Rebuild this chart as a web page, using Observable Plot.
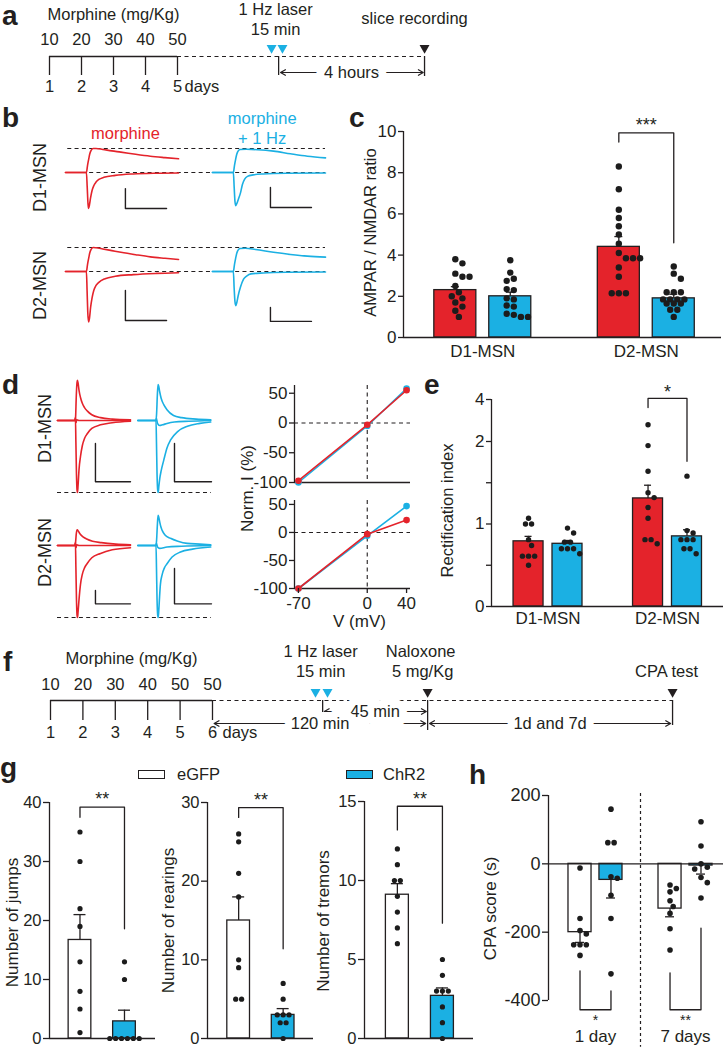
<!DOCTYPE html>
<html>
<head>
<meta charset="utf-8">
<script src="https://cdn.jsdelivr.net/npm/d3@7"></script>
<script src="https://cdn.jsdelivr.net/npm/@observablehq/plot@0.6"></script>
<style>
  html, body { margin: 0; padding: 0; background: #fff; }
  #fig { position: relative; width: 724px; height: 1049px; overflow: hidden; background: #fff;
         font-family: "Liberation Sans", Arial, Helvetica, sans-serif; color: #231f20; }
  #fig svg { position: absolute; left: 0; top: 0; background: transparent !important; overflow: visible; }
  #fig .t { position: absolute; white-space: nowrap; }
</style>
</head>
<body>
<div id="fig"></div>
<script>
// ================= DATA =================
// a: timeline (schematic positions in days)
const aDays = [1, 2, 3, 4, 5];
const aDoses = [10, 20, 30, 40, 50];
const aLaserPulses = [7.94, 8.28];
const aLaserDay = 8.16;
const aRecordDay = 12.72;

// b: evoked EPSC traces, [time ms, normalized current]
const bD1MorphPos = [[0,0],[18.5,0],[19.5,0.3],[20.5,0.55],[21.5,0.78],[22.8,0.93],[24.5,1.0],[27,1.0],[33,0.96],[41,0.9],[49,0.85],[62,0.76],[75,0.68],[88,0.62],[100,0.57]];
const bD1MorphNeg = [[0,0],[18.5,0],[19.2,-0.6],[19.9,-1.3],[20.4,-1.5],[21.2,-1.35],[22.2,-1.05],[23.5,-0.75],[25,-0.55],[27,-0.4],[29.5,-0.29],[34,-0.2],[44,-0.12],[60,-0.06],[80,-0.03],[100,-0.02]];
const bD1LaserPos = [[0,0],[18.5,0],[19.5,0.3],[20.5,0.55],[21.5,0.76],[22.8,0.9],[24.5,0.96],[30,0.97],[40,0.95],[54,0.89],[69,0.78],[84,0.68],[100,0.61]];
const bD1LaserNeg = [[0,0],[18.5,0],[19.2,-0.6],[19.9,-1.2],[20.5,-1.38],[21.5,-1.3],[23,-1.1],[24.8,-0.85],[26.5,-0.5],[28.5,-0.28],[31,-0.16],[36,-0.1],[45,-0.06],[65,-0.03],[100,-0.02]];
const bD2MorphPos = [[0,0],[18.5,0],[19.5,0.3],[20.5,0.55],[21.5,0.78],[22.8,0.93],[24.5,1.0],[27,0.99],[33,0.94],[41,0.87],[49,0.8],[62,0.7],[75,0.61],[88,0.55],[100,0.5]];
const bD2MorphNeg = [[0,0],[18.5,0],[19.1,-0.8],[19.7,-1.7],[20.4,-2.1],[21.2,-1.95],[22.2,-1.5],[23.5,-1.1],[25,-0.79],[27,-0.58],[29.5,-0.45],[35,-0.3],[44,-0.2],[60,-0.13],[80,-0.08],[100,-0.05]];
const bD2LaserPos = [[0,0],[18.5,0],[19.5,0.3],[20.5,0.55],[21.5,0.76],[22.8,0.9],[24.5,0.96],[29,0.97],[38,0.92],[54,0.8],[69,0.71],[84,0.64],[100,0.6]];
const bD2LaserNeg = [[0,0],[18.5,0],[19.2,-0.7],[19.9,-1.25],[20.6,-1.42],[21.5,-1.3],[22.8,-1.0],[24.8,-0.65],[27.5,-0.32],[30.5,-0.18],[34,-0.1],[45,-0.06],[65,-0.03],[100,-0.02]];
// scale bars [t start, t end, current top, current bottom]
const bScaleD1 = [[53, 89.4, -0.67, -1.5], [51.3, 87.6, -0.625, -1.46]];
const bScaleD2 = [[53, 89.4, -0.79, -2.04], [51.3, 87.6, -1.5, -2.08]];

// c: AMPAR/NMDAR ratio
const cGroups = ["D1-MSN", "D2-MSN"];
const cMeans = [2.3, 2.0, 4.4, 1.9];
const cErrTop = [2.47, 2.2, 4.9, 2.1];
const cD1Morph = [3.8, 3.6, 3.1, 2.95, 2.95, 2.5, 2.2, 2.0, 1.9, 1.7, 1.5, 1.3, 1.0];
const cD1Laser = [3.75, 3.15, 2.85, 2.75, 2.35, 2.3, 1.9, 1.85, 1.55, 1.5, 1.15, 1.1, 1.0, 1.0];
const cD2Morph = [8.3, 7.2, 6.2, 5.8, 5.4, 5.0, 4.55, 4.1, 3.85, 3.85, 3.85, 3.4, 2.95, 2.15, 2.15, 2.15];
const cD2Laser = [3.45, 3.1, 2.85, 2.2, 2.2, 2.2, 1.85, 1.85, 1.85, 1.85, 1.65, 1.65, 1.65, 1.35, 1.35, 1.0];

// d: traces at -70, 0, +40 mV (normalized to -70 mV peak)
const dD1MorphM70 = [[0,0],[24,0],[24.6,0.03],[25.2,-0.3],[26,-0.75],[26.8,-0.97],[27.4,-1.0],[28.2,-0.9],[29.5,-0.68],[31.5,-0.5],[34,-0.35],[37,-0.25],[41,-0.18],[47,-0.11],[59,-0.06],[75,-0.03],[100,-0.01]];
const dD1Morph0 = [[0,0],[24,0],[24.6,0.04],[25.3,-0.03],[26.5,0.01],[30,0],[100,0]];
const dD1MorphP40 = [[0,0],[24,0],[24.8,0.05],[25.6,0.3],[26.5,0.5],[27.3,0.56],[28.2,0.52],[29.5,0.42],[31.5,0.32],[34,0.24],[37,0.18],[41,0.13],[47,0.08],[59,0.04],[75,0.02],[100,0.01]];
const dD1LaserM70 = [[0,0],[25,0],[25.6,-0.3],[26.4,-0.75],[27.3,-0.97],[28,-1.0],[28.8,-0.92],[30.2,-0.8],[32,-0.7],[35.6,-0.55],[40,-0.38],[45,-0.27],[55,-0.15],[68,-0.08],[85,-0.04],[100,-0.02]];
const dD1Laser0 = [[0,0],[25,0],[25.5,0.03],[27,-0.04],[30,-0.07],[34,-0.06],[40,-0.04],[50,-0.02],[70,-0.01],[100,0]];
const dD1LaserP40 = [[0,0],[25,0],[25.8,0.1],[26.8,0.35],[27.8,0.5],[28.6,0.48],[30,0.4],[32,0.31],[35.6,0.22],[40,0.15],[49,0.07],[60,0.04],[80,0.02],[100,0.01]];
const dD2MorphM70 = [[0,0],[24,0],[24.6,0.03],[25.2,-0.3],[26,-0.75],[26.8,-0.97],[27.4,-1.0],[28.2,-0.92],[29.5,-0.75],[31.5,-0.54],[34,-0.4],[37,-0.31],[40.7,-0.25],[47,-0.17],[59,-0.11],[75,-0.06],[100,-0.03]];
const dD2Morph0 = [[0,0],[24,0],[24.6,0.04],[25.3,-0.03],[26.5,0.01],[30,0],[100,0]];
const dD2MorphP40 = [[0,0],[24,0],[24.8,0.05],[25.8,0.17],[27,0.22],[28.5,0.2],[31,0.16],[35,0.12],[40,0.09],[48,0.06],[60,0.04],[80,0.02],[100,0.01]];
const dD2LaserM70 = [[0,0],[25,0],[25.6,-0.3],[26.4,-0.75],[27.3,-0.97],[28,-1.0],[28.8,-0.9],[29.8,-0.72],[31,-0.54],[33.5,-0.4],[36.5,-0.31],[40.3,-0.25],[47,-0.16],[58.5,-0.09],[75,-0.05],[100,-0.02]];
const dD2Laser0 = [[0,0],[25,0],[25.5,0.03],[27,-0.02],[30,-0.04],[40,-0.02],[60,-0.01],[100,0]];
const dD2LaserP40 = [[0,0],[25,0],[25.8,0.08],[26.8,0.28],[27.8,0.42],[28.6,0.4],[30,0.33],[31.6,0.26],[33.4,0.21],[37,0.15],[44.8,0.1],[55,0.06],[67.7,0.03],[85,0.02],[100,0.01]];
const dScaleD1 = [[52, 100, -0.32, -0.85], [50.3, 101, -0.32, -0.85]];
const dScaleD2 = [[52, 100, -0.625, -0.81], [50.3, 101, -0.32, -0.81]];

// d: I-V relation
const ivVolt = [-70, 0, 40];
const ivD1Morph = [-97, -3, 55];
const ivD1Laser = [-100, -5, 58];
const ivD2Morph = [-100, -3, 22];
const ivD2Laser = [-100, -6, 47];

// e: rectification index
const eMeans = [0.79, 0.76, 1.31, 0.85];
const eErrTop = [0.85, 0.80, 1.47, 0.93];
const eD1Morph = [1.07, 1.0, 1.0, 0.81, 0.74, 0.61, 0.61, 0.61, 0.5];
const eD1Laser = [0.95, 0.89, 0.78, 0.78, 0.70, 0.70, 0.70, 0.64];
const eD2Morph = [2.8, 1.95, 1.64, 1.38, 1.32, 1.2, 1.07, 0.81, 0.81, 0.76];
const eD2Laser = [1.58, 0.92, 0.89, 0.81, 0.81, 0.81, 0.70, 0.70, 0.64];

// f: timeline
const fDays = [1, 2, 3, 4, 5, 6];
const fDoses = [10, 20, 30, 40, 50, 50];
const fLaserPulses = [9.18, 9.55];
const fLaserDay = 9.40, fNaloxoneDay = 12.64, fTestDay = 20.2;

// g: withdrawal signs (eGFP vs ChR2)
const gSeries = ["eGFP", "ChR2"];
const gJumpsMean = [16.7, 2.9], gJumpsErr = [21, 4.8];
const gJumpsEGFP = [35, 30, 22, 19, 13, 8, 5, 1];
const gJumpsChR2 = [13, 10, 0, 0, 0, 0, 0, 0];
const gRearMean = [15, 3.0], gRearErr = [18, 3.8];
const gRearEGFP = [26, 25, 21, 18, 10, 9, 5, 5];
const gRearChR2 = [7, 5, 3, 3, 3, 2, 2, 0];
const gTremMean = [9.1, 2.7], gTremErr = [9.8, 3.2];
const gTremEGFP = [12, 11, 10, 10, 9, 8, 7, 6];
const gTremChR2 = [5, 4, 3, 3, 3, 2, 1, 0];

// h: CPA score
const hGroups = ["1 day", "7 days"];
const hMeans = [-200, -47, -131, -5];
const hErr = [-230, -100, -155, -30];
const h1dEGFP = [-12, -160, -195, -205, -237, -237, -237, -268];
const h1dChR2 = [160, 62, 62, -38, -42, -92, -160, -322];
const h7dEGFP = [-62, -72, -82, -108, -125, -145, -190, -252];
const h7dChR2 = [123, 52, 0, -10, -15, -40, -55, -100];

// ================= RENDERING =================
const W = 724, H = 1049;
const FONT = '"Liberation Sans", Arial, Helvetica, sans-serif';
const INK = "#231f20", RED = "#e4232b", CYAN = "#1bb0e3", DOT = "#1c1c1c";
const fig = document.getElementById("fig");

function plotAt(frame, opts) {
  const [x0, y0, x1, y1] = frame;
  const svg = Plot.plot({
    width: W, height: H,
    marginLeft: x0, marginTop: y0, marginRight: W - x1, marginBottom: H - y1,
    style: `background:transparent;overflow:visible;font-family:${FONT};font-size:16.5px;color:${INK};`,
    ...opts
  });
  fig.appendChild(svg);
  return svg;
}

function htmlText(txt, left, baseline, size, bold, color) {
  const d = document.createElement("div");
  d.className = "t";
  d.textContent = txt;
  d.style.left = left + "px";
  d.style.top = (baseline - 0.8465 * size) + "px";
  d.style.fontSize = size + "px";
  d.style.lineHeight = size + "px";
  d.style.fontWeight = bold ? "bold" : "normal";
  if (color) d.style.color = color;
  fig.appendChild(d);
}
function htmlBox(left, top, w, h, fill) {
  const d = document.createElement("div");
  d.style.cssText = `position:absolute;left:${left}px;top:${top}px;width:${w}px;height:${h}px;background:${fill};border:1.3px solid ${INK};box-sizing:border-box;`;
  fig.appendChild(d);
}

const yLabel = (s, dx, dy, size = 16.5) => Plot.text([s], {frameAnchor: "left", textAnchor: "middle", lineAnchor: "middle", dx, dy, rotate: -90, fontSize: size, fill: INK});
const bracket = (xl, xr, yl, yt, yr) => Plot.line([[xl, yl], [xl, yt], [xr, yt], [xr, yr]], {stroke: INK, strokeWidth: 1.3});
const stars = (x, y, s, dy, size = 18) => Plot.text([s], {x, y, dy, fontSize: size, fill: INK});

// beeswarm-like horizontal spreading of dots (pixel space)
function swarm(values, py, r) {
  const D = 2 * r + 0.7;
  const rows = [];
  values.slice().sort((a, b) => b - a).forEach(v => {
    const y = py(v), last = rows[rows.length - 1];
    if (last && Math.abs(last.y - y) < 1.2) last.vals.push(v); else rows.push({y, vals: [v]});
  });
  const placed = [], out = [];
  const shifts = [0, 0.5, -0.5, 1, -1, 1.5, -1.5, 2, -2, 2.5, -2.5].map(k => k * D);
  for (const row of rows) {
    const n = row.vals.length;
    const base = row.vals.map((_, i) => (i - (n - 1) / 2) * D);
    let s = shifts.find(sh => base.every(b => placed.every(p => (p.x - b - sh) ** 2 + (p.y - row.y) ** 2 >= D * D * 0.92)));
    if (s === undefined) s = 0;
    row.vals.forEach((v, i) => { placed.push({x: base[i] + s, y: row.y}); out.push({v, dx: base[i] + s}); });
  }
  return out;
}

// yT: optional value transform (for a broken axis); domain is given in transformed units
function barPanel({frame, xDomain, yDomain, yTicks, yFormat = d => String(d), yT = v => v, tickSize = 5, tickFont = 17,
                   bars, barWidth, capPx = 4, dotR = 3, baseline = 0, xTicks, xFormat, xPad = 6, extra = []}) {
  const [x0, y0, x1, y1] = frame;
  const range = [y1, y0];
  const scale = d3.scaleLinear(yDomain, range);
  const py = v => scale(yT(v));
  const pxX = (x1 - x0) / (xDomain[1] - xDomain[0]);
  const cap = capPx / pxX;
  const tb = bars.map(b => ({...b, mean: yT(b.mean), err: yT(b.err)}));
  const marks = [];
  tb.forEach(b => marks.push(Plot.rect([b], {
    x1: d => d.x - barWidth / 2, x2: d => d.x + barWidth / 2, y1: 0, y2: d => d.mean,
    fill: b.fill, stroke: INK, strokeWidth: 1.3
  })));
  marks.push(Plot.ruleX(tb, {x: "x", y1: "mean", y2: "err", stroke: INK, strokeWidth: 1.3}));
  marks.push(Plot.ruleY(tb, {y: "err", x1: d => d.x - cap, x2: d => d.x + cap, stroke: INK, strokeWidth: 1.3}));
  const dots = bars.flatMap(b => swarm(b.values, py, dotR).map(p => ({x: b.x + p.dx / pxX, y: yT(p.v)})));
  marks.push(Plot.dot(dots, {x: "x", y: "y", r: dotR, fill: DOT, stroke: "none"}));
  marks.push(Plot.ruleX([xDomain[0]], {stroke: INK, strokeWidth: 1.3}));
  marks.push(Plot.ruleY([yT(baseline)], {stroke: INK, strokeWidth: 1.3}));
  const tickVals = yTicks.map(yT);
  marks.push(Plot.axisY({ticks: tickVals, tickFormat: t => yFormat(yTicks[tickVals.indexOf(t)]), tickSize, tickPadding: 2, label: null, fontSize: tickFont, strokeWidth: 1.3}));
  if (xTicks) marks.push(Plot.axisX({ticks: xTicks, tickFormat: xFormat, tickSize: 0, tickPadding: xPad, label: null, fontSize: 17}));
  marks.push(...extra);
  return plotAt(frame, {
    x: xTicks ? {domain: xDomain, label: null} : {domain: xDomain, axis: null, label: null},
    y: {domain: yDomain, label: null},
    marks
  });
}

// ---------- Panel a ----------
{
  const L = {title: 14.6, laser1: 9, laser2: 29, record: 18, dose: 39.7, tri: 47.5, line: 56, tick: 75, recEnd: 76, arrow: 72, day: 86.7};
  const mid = (aLaserDay + aRecordDay) / 2;
  const T = {fill: INK, fontSize: 16.5};
  const last = aDays[aDays.length - 1];
  plotAt([17, 0, 465, 100], {
    x: {domain: [0, 14], axis: null},
    y: {domain: [0, 100], range: [0, 100], axis: null},
    marks: [
      Plot.text(["Morphine (mg/Kg)"], {x: d3.mean(aDays), y: L.title, ...T}),
      Plot.text(aDays, {x: d => d, y: L.dose, text: (d, i) => String(aDoses[i]), ...T}),
      Plot.ruleY([L.line], {x1: aDays[0], x2: last, stroke: INK, strokeWidth: 1.3}),
      Plot.ruleY([L.line], {x1: last, x2: aRecordDay, stroke: INK, strokeWidth: 1.2, strokeDasharray: "4,3.5"}),
      Plot.ruleX(aDays, {x: d => d, y1: L.line, y2: L.tick, stroke: INK, strokeWidth: 1.3}),
      Plot.text(aDays, {x: d => d, y: L.day, text: d => String(d), ...T}),
      Plot.text(["days"], {x: last, y: L.day, dx: 7, textAnchor: "start", ...T}),
      Plot.dot(aLaserPulses, {x: d => d, y: L.tri, symbol: "triangle", rotate: 180, r: 3.7, fill: CYAN}),
      Plot.dot([aRecordDay], {x: d => d, y: L.tri, symbol: "triangle", rotate: 180, r: 3.7, fill: INK}),
      Plot.ruleX([aLaserDay], {x: d => d, y1: L.line, y2: L.tick, stroke: INK, strokeWidth: 1.3}),
      Plot.ruleX([aRecordDay], {x: d => d, y1: L.line, y2: L.recEnd, stroke: INK, strokeWidth: 1.3}),
      Plot.text(["1 Hz laser"], {x: aLaserDay, dx: -3, y: L.laser1, ...T}),
      Plot.text(["15 min"], {x: aLaserDay, dx: -3, y: L.laser2, ...T}),
      Plot.text(["slice recording"], {x: aRecordDay, dx: -10, y: L.record, ...T}),
      Plot.arrow([0], {x1: mid, x2: aLaserDay + 0.06, y1: L.arrow, y2: L.arrow, stroke: INK, strokeWidth: 1.2, headLength: 7}),
      Plot.arrow([0], {x1: mid, x2: aRecordDay - 0.04, y1: L.arrow, y2: L.arrow, stroke: INK, strokeWidth: 1.2, headLength: 7}),
      Plot.text(["4 hours"], {x: mid, y: L.arrow, stroke: "white", strokeWidth: 16, paintOrder: "stroke", ...T})
    ]
  });
}

// ---------- Panel b ----------
function traceRow(frame, xDomain, yDomain, colShift, traces, scaleBars, dashedAt, dashedX, label, labelDx, labelDy, extra = []) {
  const marks = [
    Plot.ruleY(dashedAt, {x1: dashedX[0], x2: dashedX[1], stroke: INK, strokeWidth: 1.1, strokeDasharray: "4,3.3"})
  ];
  traces.forEach(({data, col, color}) => marks.push(
    Plot.line(data.map(([t, i]) => ({t: t + col * colShift, i})), {x: "t", y: "i", stroke: color, strokeWidth: 1.6, curve: "monotone-x"})
  ));
  scaleBars.forEach(([t0, t1, iTop, iBot], col) => marks.push(
    Plot.line([[t0 + col * colShift, iTop], [t0 + col * colShift, iBot], [t1 + col * colShift, iBot]], {stroke: INK, strokeWidth: 1.4})
  ));
  marks.push(yLabel(label, labelDx, labelDy, 18));
  marks.push(...extra);
  plotAt(frame, {x: {domain: xDomain, axis: null}, y: {domain: yDomain, axis: null}, marks});
}
{
  const xd = [0, 230], yd = [-2.2, 1.15];
  traceRow([65, 144.4, 325, 224.8], xd, yd, 130, [
    {data: bD1MorphNeg, col: 0, color: RED}, {data: bD1MorphPos, col: 0, color: RED},
    {data: bD1LaserNeg, col: 1, color: CYAN}, {data: bD1LaserPos, col: 1, color: CYAN}
  ], bScaleD1, [0, 1], [2, 230], "D1-MSN", -25, -7.6, [
    Plot.text(["morphine"], {x: 53, frameAnchor: "top", dy: -17.7, fill: RED, fontSize: 16.5}),
    Plot.text(["morphine"], {x: 174, frameAnchor: "top", dy: -32.7, fill: CYAN, fontSize: 16.5}),
    Plot.text(["+ 1 Hz"], {x: 174, frameAnchor: "top", dy: -12.7, fill: CYAN, fontSize: 16.5})
  ]);
  traceRow([65, 243.4, 325, 323.8], xd, yd, 130, [
    {data: bD2MorphNeg, col: 0, color: RED}, {data: bD2MorphPos, col: 0, color: RED},
    {data: bD2LaserNeg, col: 1, color: CYAN}, {data: bD2LaserPos, col: 1, color: CYAN}
  ], bScaleD2, [0, 1], [2, 230], "D2-MSN", -25, 1.4);
}

// ---------- Panel c ----------
{
  const off = 0.336, bw = 0.514;
  barPanel({
    frame: [403, 131, 721, 337], xDomain: [0.03, 3.92], yDomain: [0, 10], yTicks: [0, 2, 4, 6, 8, 10],
    bars: [
      {x: 1 - off, mean: cMeans[0], err: cErrTop[0], fill: RED, values: cD1Morph},
      {x: 1 + off, mean: cMeans[1], err: cErrTop[1], fill: CYAN, values: cD1Laser},
      {x: 3 - off, mean: cMeans[2], err: cErrTop[2], fill: RED, values: cD2Morph},
      {x: 3 + off, mean: cMeans[3], err: cErrTop[3], fill: CYAN, values: cD2Laser}
    ],
    barWidth: bw, capPx: 4, dotR: 3.2,
    xTicks: [1, 3], xFormat: d => cGroups[Math.round((d - 1) / 2)], xPad: 7.6,
    extra: [bracket(3 - off, 3 + off, 9.49, 9.93, 4.6), stars(3, 9.93, "***", -7.5), yLabel("AMPAR / NMDAR ratio", -33, -2)]
  });
}

// ---------- Panel d: traces ----------
{
  const xd = [0, 211], yd = [-1.05, 0.62];
  traceRow([57, 375.4, 211, 495.6], xd, yd, 110, [
    {data: dD1MorphM70, col: 0, color: RED}, {data: dD1Morph0, col: 0, color: RED}, {data: dD1MorphP40, col: 0, color: RED},
    {data: dD1LaserM70, col: 1, color: CYAN}, {data: dD1Laser0, col: 1, color: CYAN}, {data: dD1LaserP40, col: 1, color: CYAN}
  ], dScaleD1, [-1], [0, 211], "D1-MSN", -12, -7.5);
  traceRow([57, 500.4, 211, 620.6], xd, yd, 110, [
    {data: dD2MorphM70, col: 0, color: RED}, {data: dD2Morph0, col: 0, color: RED}, {data: dD2MorphP40, col: 0, color: RED},
    {data: dD2LaserM70, col: 1, color: CYAN}, {data: dD2Laser0, col: 1, color: CYAN}, {data: dD2LaserP40, col: 1, color: CYAN}
  ], dScaleD2, [-1], [0, 211], "D2-MSN", -12, -8.5);
}

// ---------- Panel d: I-V ----------
function ivPlot(frame, yDomain, morph, laser, showX, extra = []) {
  const xDomain = [-74, 44];
  const rows = vals => ivVolt.map((v, i) => ({v, I: vals[i]}));
  const marks = [
    Plot.ruleY([0], {stroke: INK, strokeWidth: 1.1, strokeDasharray: "4,3.5"}),
    Plot.ruleX([0], {stroke: INK, strokeWidth: 1.1, strokeDasharray: "4,3.5"}),
    Plot.ruleX([xDomain[0]], {stroke: INK, strokeWidth: 1.3}),
    Plot.ruleY([yDomain[0]], {stroke: INK, strokeWidth: 1.3}),
    Plot.line(rows(laser), {x: "v", y: "I", stroke: CYAN, strokeWidth: 1.6}),
    Plot.dot(rows(laser), {x: "v", y: "I", r: 3.3, fill: CYAN}),
    Plot.line(rows(morph), {x: "v", y: "I", stroke: RED, strokeWidth: 1.6}),
    Plot.dot(rows(morph), {x: "v", y: "I", r: 3.3, fill: RED}),
    Plot.axisY({ticks: [-100, -50, 0, 50], tickFormat: d => String(d), tickSize: 5, tickPadding: 2, label: null, fontSize: 17, strokeWidth: 1.3})
  ];
  if (showX) marks.push(Plot.axisX({ticks: ivVolt, tickFormat: d => String(d), tickSize: 5, tickPadding: 3, label: null, fontSize: 17, strokeWidth: 1.3}));
  marks.push(...extra);
  plotAt(frame, {
    x: showX ? {domain: xDomain, label: null} : {domain: xDomain, axis: null, label: null},
    y: {domain: yDomain, label: null},
    marks
  });
}
ivPlot([294, 385, 410, 482], [-100, 63], ivD1Morph, ivD1Laser, false);
ivPlot([294, 500, 410, 588], [-100, 57], ivD2Morph, ivD2Laser, true, [
  yLabel("Norm. I (%)", -47, -56, 17),
  Plot.text(["V (mV)"], {frameAnchor: "bottom", dx: 7, dy: 38.5, fontSize: 17, fill: INK})
]);

// ---------- Panel e (axis compressed above 2) ----------
{
  const off = 0.326, bw = 0.502;
  const k = 0.2545;
  const eT = v => v <= 2 ? v : 2 + (v - 2) * k;
  barPanel({
    frame: [491, 399, 723, 606], xDomain: [0.054, 3.937], yDomain: [0, eT(4)], yT: eT,
    yTicks: [0, 0.5, 1, 1.5, 2, 4], yFormat: d => Number.isInteger(d) ? String(d) : "",
    bars: [
      {x: 1 - off, mean: eMeans[0], err: eErrTop[0], fill: RED, values: eD1Morph},
      {x: 1 + off, mean: eMeans[1], err: eErrTop[1], fill: CYAN, values: eD1Laser},
      {x: 3 - off, mean: eMeans[2], err: eErrTop[2], fill: RED, values: eD2Morph},
      {x: 3 + off, mean: eMeans[3], err: eErrTop[3], fill: CYAN, values: eD2Laser}
    ],
    barWidth: bw, capPx: 3.5, dotR: 2.7,
    xTicks: [1, 3], xFormat: d => cGroups[Math.round((d - 1) / 2)], xPad: 5.6,
    extra: [bracket(3 - off, 3 + off, eT(3.62), eT(4.05), eT(1.76)), stars(3, eT(4.05), "*", -6.5), yLabel("Rectification index", -44, 7.5)]
  });
}

// ---------- Panel f ----------
{
  const L = {title: 658.7, lab1: 651.7, lab2: 671.7, dose: 684.7, tri: 691.5, line: 700, tick: 720, laserEnd: 715, nalEnd: 730, testEnd: 725, arr45: 711, arr120: 723, day: 732.7};
  const T = {fill: INK, fontSize: 16.5};
  const last = fDays[fDays.length - 1];
  const m45 = (fLaserDay + fNaloxoneDay) / 2, m120 = (last + fNaloxoneDay) / 2, mTest = (fNaloxoneDay + fTestDay) / 2;
  const arrow = (a, b, y) => Plot.arrow([0], {x1: a, x2: b, y1: y, y2: y, stroke: INK, strokeWidth: 1.2, headLength: 7});
  const halo = (s, x, y) => Plot.text([s], {x, y, stroke: "white", strokeWidth: 16, paintOrder: "stroke", ...T});
  plotAt([17.6, 640, 723.9, 745], {
    x: {domain: [0, 21.8], axis: null},
    y: {domain: [640, 745], range: [640, 745], axis: null},
    marks: [
      Plot.text(["Morphine (mg/Kg)"], {x: d3.mean(fDays), y: L.title, ...T}),
      Plot.text(fDays, {x: d => d, y: L.dose, text: (d, i) => String(fDoses[i]), ...T}),
      Plot.ruleY([L.line], {x1: fDays[0], x2: last, stroke: INK, strokeWidth: 1.3}),
      Plot.ruleY([L.line], {x1: last, x2: fTestDay, stroke: INK, strokeWidth: 1.2, strokeDasharray: "4,3.5"}),
      Plot.ruleX(fDays, {x: d => d, y1: L.line, y2: L.tick, stroke: INK, strokeWidth: 1.3}),
      Plot.text(fDays, {x: d => d, y: L.day, text: d => String(d), ...T}),
      Plot.text(["days"], {x: last, y: L.day, dx: 10, textAnchor: "start", ...T}),
      Plot.dot(fLaserPulses, {x: d => d, y: L.tri, symbol: "triangle", rotate: 180, r: 3.7, fill: CYAN}),
      Plot.dot([fNaloxoneDay, fTestDay], {x: d => d, y: L.tri, symbol: "triangle", rotate: 180, r: 3.7, fill: INK}),
      Plot.ruleX([fLaserDay], {x: d => d, y1: L.line, y2: L.laserEnd, stroke: INK, strokeWidth: 1.3}),
      Plot.ruleX([fNaloxoneDay], {x: d => d, y1: L.line, y2: L.nalEnd, stroke: INK, strokeWidth: 1.3}),
      Plot.ruleX([fTestDay], {x: d => d, y1: L.line, y2: L.testEnd, stroke: INK, strokeWidth: 1.3}),
      Plot.text(["1 Hz laser"], {x: fLaserDay, dx: -2, y: L.lab1, ...T}),
      Plot.text(["15 min"], {x: fLaserDay, dx: -2, y: L.lab2, ...T}),
      Plot.text(["Naloxone"], {x: fNaloxoneDay, dx: -7, y: L.lab1, ...T}),
      Plot.text(["5 mg/Kg"], {x: fNaloxoneDay, dx: -5, y: L.lab2, ...T}),
      Plot.text(["CPA test"], {x: fTestDay, dx: -6, y: L.lab2, ...T}),
      arrow(m45, fLaserDay + 0.05, L.arr45), arrow(m45, fNaloxoneDay - 0.04, L.arr45),
      arrow(m120, last + 0.05, L.arr120), arrow(m120, fNaloxoneDay - 0.06, L.arr120),
      arrow(mTest, fNaloxoneDay + 0.06, L.arr120), arrow(mTest, fTestDay - 0.06, L.arr120),
      halo("45 min", m45, L.arr45), halo("120 min", m120, L.arr120), halo("1d and 7d", mTest, L.arr120)
    ]
  });
}

// ---------- Panel g ----------
{
  const bw = 0.51;
  const mk = (frame, xDomain, yDomain, yTicks, means, errs, eg, ch, br, label, ldx, ldy) => barPanel({
    frame, xDomain, yDomain, yTicks, tickSize: 6, tickFont: 16.5,
    bars: [
      {x: 0, mean: means[0], err: errs[0], fill: "white", values: eg},
      {x: 1, mean: means[1], err: errs[1], fill: CYAN, values: ch}
    ],
    barWidth: bw, capPx: 6, dotR: 2.6,
    extra: [bracket(0, 1, br[0], br[1], br[2]), stars(0.5, br[1], "**", -7.5), yLabel(label, ldx, ldy, 17)]
  });
  mk([49, 802, 155, 1038], [-0.685, 1.697], [0, 40], [0, 10, 20, 30, 40], gJumpsMean, gJumpsErr, gJumpsEGFP, gJumpsChR2, [37.5, 39.2, 18.6], "Number of jumps", -37, 2);
  mk([207, 802, 313, 1038], [-0.7, 1.682], [0, 30], [0, 10, 20, 30], gRearMean, gRearErr, gRearEGFP, gRearChR2, [28.1, 29.35, 11.4], "Number of rearings", -39, 0);
  mk([364, 801, 473, 1038], [-0.73, 1.69], [0, 15], [0, 5, 10, 15], gTremMean, gTremErr, gTremEGFP, gTremChR2, [13.2, 14.7, 7.3], "Number of tremors", -41, 1);
  // legend
  htmlBox(138, 769.5, 27, 9.5, "white");
  htmlText(gSeries[0], 177, 780, 16.5);
  htmlBox(346, 769.5, 27, 9.5, CYAN);
  htmlText(gSeries[1], 383, 780, 16.5);
}

// ---------- Panel h ----------
{
  const off = 0.172, bw = 0.256;
  barPanel({
    frame: [548, 795, 723, 1000], xDomain: [0.478, 2.422], yDomain: [-400, 200], yTicks: [-400, -200, 0, 200],
    tickSize: 6, tickFont: 18,
    bars: [
      {x: 1 - off, mean: hMeans[0], err: hErr[0], fill: "white", values: h1dEGFP},
      {x: 1 + off, mean: hMeans[1], err: hErr[1], fill: CYAN, values: h1dChR2},
      {x: 2 - off, mean: hMeans[2], err: hErr[2], fill: "white", values: h7dEGFP},
      {x: 2 + off, mean: hMeans[3], err: hErr[3], fill: CYAN, values: h7dChR2}
    ],
    barWidth: bw, capPx: 4.5, dotR: 2.8,
    extra: [
      Plot.ruleX([1.5], {y1: 206, y2: -537, stroke: INK, strokeWidth: 1.2, strokeDasharray: "3,3"}),
      bracket(1 - off, 1 + off, -313, -427, -372), stars(1, -427, "*", 10.5, 14),
      bracket(2 - off, 2 + off, -319, -427, -188), stars(2, -427, "**", 10.5, 14),
      Plot.text(hGroups, {x: (d, i) => i + 1, frameAnchor: "bottom", dy: 41.9, fontSize: 17, fill: INK}),
      yLabel("CPA score (s)", -58, 10.5, 17)
    ]
  });
}

// ---------- panel letters ----------
[["a", 2, 25.5], ["b", 2, 128], ["c", 349, 128], ["d", 2, 395], ["e", 424, 395],
 ["f", 3, 672], ["g", 0, 778], ["h", 469, 785]].forEach(([s, x, b]) => htmlText(s, x, b, 28, true));
</script>
</body>
</html>
